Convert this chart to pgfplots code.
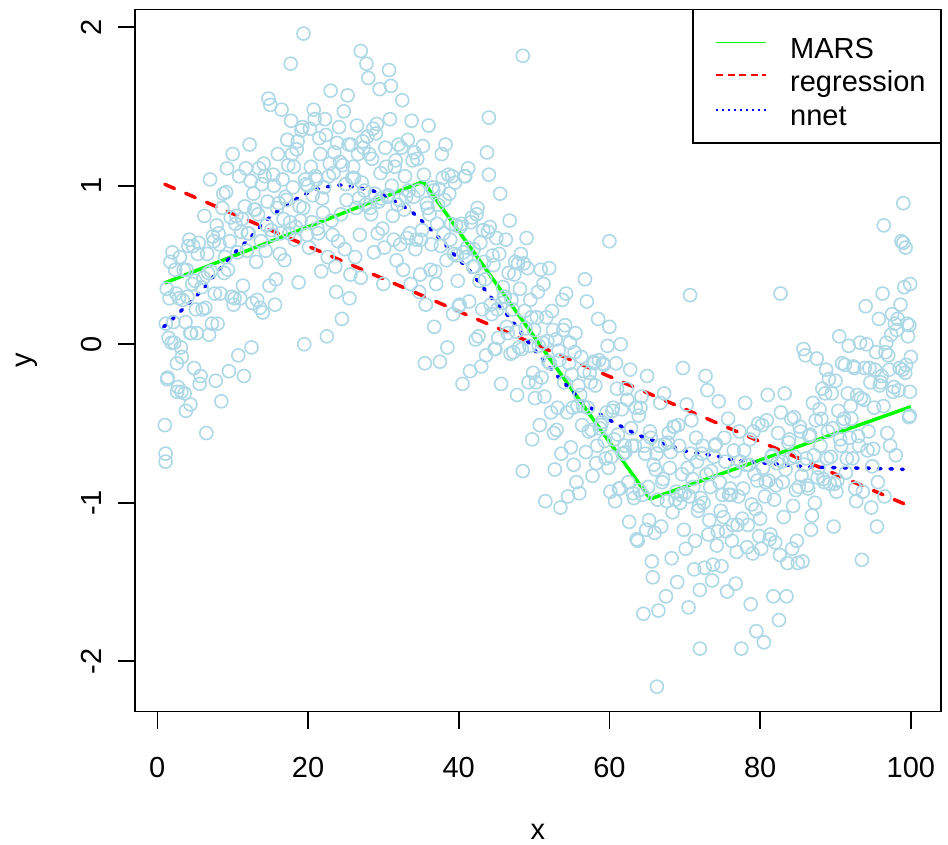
\documentclass[border=0pt]{standalone}
\usepackage{pgfplots}
\pgfplotsset{compat=1.18}
\usepackage{fontspec}
\setmainfont{Liberation Sans}
\definecolor{lb}{HTML}{ADD8E6}
\definecolor{rgreen}{HTML}{00FF00}
\definecolor{rred}{HTML}{FF0000}
\definecolor{rblue}{HTML}{0000FF}
\pgfplotstableread{
x y
1 -0.51
1.25 0.35
1.5 0.04
1.75 0.52
2 0.58
2.25 0.01
2.5 0.32
2.75 -0.27
3 0.55
3.25 -0.08
3.5 0.47
3.75 0.14
4 0.30
4.25 0.66
4.5 0.07
4.75 0.62
5 0.40
5.25 0.07
5.5 0.64
5.75 -0.20
6 0.22
6.25 0.81
6.5 -0.56
6.75 0.45
7 1.04
7.25 0.13
7.5 0.65
7.75 -0.23
8 0.13
8.25 0.63
8.5 -0.36
8.75 0.95
9 0.55
9.25 1.11
9.5 -0.17
9.75 0.80
10 1.20
10.25 0.29
10.5 0.81
10.75 -0.07
11 0.29
11.25 0.79
11.5 -0.20
11.75 1.11
12 0.70
12.25 1.26
12.5 -0.02
12.75 0.95
13 0.85
13.25 0.28
13.5 1.11
13.75 0.65
14 0.20
14.25 1.06
14.5 0.75
14.75 1.55
15 1.51
15.25 0.69
15.5 1.00
15.75 0.41
16 1.20
16.25 0.57
16.5 1.48
16.75 0.79
17 0.93
17.25 1.29
17.5 0.70
17.75 1.41
18 0.99
18.25 0.66
18.5 1.23
18.75 0.39
19 0.78
19.25 1.37
19.5 0.00
19.75 1.01
20 1.00
20.25 1.36
20.5 0.77
20.75 1.48
21 1.06
21.25 0.73
21.5 1.30
21.75 0.46
22 0.83
22.25 1.42
22.5 0.05
22.75 1.06
23 1.60
23.25 0.69
23.5 1.21
23.75 0.33
24 0.65
24.25 1.15
24.5 0.16
24.75 1.47
25 1.01
25.25 1.57
25.5 0.29
25.75 1.26
26 1.12
26.25 0.55
26.5 1.38
26.75 0.92
27 0.42
27.25 1.28
27.5 0.97
27.75 1.77
28 1.68
28.25 0.86
28.5 1.17
28.75 0.58
29 1.33
29.25 0.70
29.5 1.61
29.75 0.92
30 0.38
30.25 1.24
30.5 0.93
30.75 1.73
31 1.63
31.25 0.81
31.5 1.12
31.75 0.53
32 1.26
32.25 0.63
32.5 1.54
32.75 0.85
33 0.93
33.25 1.29
33.5 0.70
33.75 1.41
34 0.93
34.25 0.60
34.5 1.17
34.75 0.33
35 0.66
35.25 1.25
35.5 -0.12
35.75 0.89
36 1.38
36.25 0.47
36.5 0.99
36.75 0.11
37 0.38
37.25 0.88
37.5 -0.11
37.75 1.20
38 0.70
38.25 1.26
38.5 -0.02
38.75 0.95
39 0.76
39.25 0.19
39.5 1.02
39.75 0.56
40 0.24
40.25 0.74
40.5 -0.25
40.75 1.06
41 0.55
41.25 1.11
41.5 -0.17
41.75 0.80
42 0.60
42.25 0.03
42.5 0.86
42.75 0.40
43 -0.14
43.25 0.72
43.5 0.41
43.75 1.21
44 1.07
44.25 0.25
44.5 0.56
44.75 -0.03
45 0.67
45.25 0.04
45.5 0.95
45.75 0.26
46 0.30
46.25 0.66
46.5 0.07
46.75 0.78
47 0.28
47.25 -0.05
47.5 0.52
47.75 -0.32
48 -0.02
48.25 0.57
48.5 -0.80
48.75 0.21
49 0.67
49.25 -0.24
49.5 0.28
49.75 -0.60
50 0.09
50.25 -0.24
50.5 0.33
50.75 -0.51
51 -0.21
51.25 0.38
51.5 -0.99
51.75 0.02
52 0.48
52.25 -0.43
52.5 0.09
52.75 -0.79
53 -0.54
53.25 -0.04
53.5 -1.03
53.75 0.28
54 -0.24
54.25 0.32
54.5 -0.96
54.75 0.01
55 -0.19
55.25 -0.76
55.5 0.07
55.75 -0.39
56 -0.94
56.25 -0.08
56.5 -0.39
56.75 0.41
57 0.27
57.25 -0.55
57.5 -0.24
57.75 -0.83
58 -0.12
58.25 -0.75
58.5 0.16
58.75 -0.53
59 -0.49
59.25 -0.13
59.5 -0.72
59.75 -0.01
60 0.11
60.25 -0.71
60.5 -0.40
60.75 -0.99
61 -0.28
61.25 -0.91
61.5 0.00
61.75 -0.69
62 -0.64
62.25 -0.28
62.5 -0.87
62.75 -0.16
63 -0.64
63.25 -0.97
63.5 -0.40
63.75 -1.24
64 -0.92
64.25 -0.33
64.5 -1.70
64.75 -0.69
65 -0.20
65.25 -1.11
65.5 -0.59
65.75 -1.47
66 -1.19
66.25 -0.69
66.5 -1.68
66.75 -0.37
67 -0.87
67.25 -0.31
67.5 -1.59
67.75 -0.62
68 -0.78
68.25 -1.35
68.5 -0.52
68.75 -0.98
69 -1.50
69.25 -0.64
69.5 -0.95
69.75 -0.15
70 -0.94
70.25 -0.38
70.5 -1.66
70.75 -0.69
71 -0.85
71.25 -1.42
71.5 -0.59
71.75 -1.05
72 -1.55
72.25 -0.69
72.5 -1.00
72.75 -0.20
73 -0.29
73.25 -1.11
73.5 -0.80
73.75 -1.39
74 -0.64
74.25 -1.27
74.5 -0.36
74.75 -1.05
75 -0.95
75.25 -0.59
75.5 -1.18
75.75 -0.47
76 -0.91
76.25 -1.24
76.5 -0.67
76.75 -1.51
77 -1.14
77.25 -0.55
77.5 -1.92
77.75 -0.91
78 -0.37
78.25 -1.28
78.5 -0.76
78.75 -1.64
79 -1.32
79.25 -0.82
79.5 -1.81
79.75 -0.50
80 -1.10
80.25 -0.51
80.5 -1.88
80.75 -0.87
81 -0.32
81.25 -1.23
81.5 -0.71
81.75 -1.59
82 -1.25
82.25 -0.75
82.5 -1.74
82.75 -0.43
83 -0.87
83.25 -0.31
83.5 -1.59
83.75 -0.62
84 -0.72
84.25 -1.29
84.5 -0.46
84.75 -0.92
85 -1.38
85.25 -0.52
85.5 -0.83
85.75 -0.03
86 -0.07
86.25 -0.89
86.5 -0.58
86.75 -1.17
87 -0.37
87.25 -1.00
87.5 -0.09
87.75 -0.78
88 -0.64
88.25 -0.28
88.5 -0.87
88.75 -0.16
89 -0.55
89.25 -0.88
89.5 -0.31
89.75 -1.15
90 -0.23
90.25 -0.86
90.5 0.05
90.75 -0.64
91 -0.49
91.25 -0.13
91.5 -0.72
91.75 -0.01
92 -0.39
92.25 -0.72
92.5 -0.15
92.75 -0.99
93 -0.58
93.25 0.01
93.5 -1.36
93.75 -0.35
94 0.24
94.25 -0.67
94.5 -0.15
94.75 -1.03
95 -0.66
95.25 -0.16
95.5 -1.15
95.75 0.16
96 -0.24
96.25 0.32
96.5 -0.96
96.75 0.01
97 -0.07
97.25 -0.64
97.5 0.19
97.75 -0.27
98 -0.70
98.25 0.16
98.5 -0.15
98.75 0.65
99 0.64
99.25 -0.18
99.5 0.13
99.75 -0.46
99.8 0.12
99.85 -0.45
99.9 0.38
100 -0.08
1.1 -0.69
1.1 -0.74
1.3 -0.22
2.6 -0.12
3.8 -0.42
4.4 -0.38
3.2 -0.30
19.4 1.96
17.7 1.77
27.0 1.85
48.5 1.82
44.0 1.43
66.3 -2.16
72.0 -1.92
60.0 0.65
70.7 0.31
82.7 0.32
99.0 0.89
96.4 0.75
99.3 0.61
}\ptsA
\pgfplotstableread{
x y
1.125 0.13
1.375 -0.21
1.625 0.29
1.875 0.01
2.125 0.14
2.375 0.47
2.625 -0.30
2.875 0.29
3.125 -0.02
3.375 0.28
3.625 -0.31
3.875 0.47
4.125 0.62
4.375 0.07
4.625 0.38
4.875 -0.15
5.125 0.22
5.375 0.57
5.625 -0.25
5.875 0.36
6.125 0.42
6.375 0.23
6.625 0.57
6.875 0.06
7.125 0.46
7.375 0.68
7.625 0.32
7.875 0.75
8.125 0.70
8.375 0.32
8.625 0.86
8.875 0.45
9.125 0.96
9.375 0.47
9.625 0.65
9.875 0.30
10.125 0.25
10.375 0.76
10.625 0.58
10.875 1.06
11.125 0.71
11.375 0.37
11.625 0.87
11.875 0.59
12.125 0.70
12.375 1.03
12.625 0.26
12.875 0.85
13.125 0.52
13.375 0.82
13.625 0.23
13.875 1.01
14.125 1.14
14.375 0.59
14.625 0.90
14.875 0.37
15.125 0.72
15.375 1.07
15.625 0.25
15.875 0.86
16.125 0.89
16.375 0.70
16.625 1.04
16.875 0.53
17.125 0.91
17.375 1.13
17.625 0.77
17.875 1.20
18.125 1.12
18.375 0.74
18.625 1.28
18.875 0.87
19.125 1.35
19.375 0.86
19.625 1.04
19.875 0.69
20.125 0.61
20.375 1.12
20.625 0.94
20.875 1.42
21.125 1.04
21.375 0.70
21.625 1.20
21.875 0.92
22.125 0.99
22.375 1.32
22.625 0.55
22.875 1.14
23.125 0.78
23.375 1.08
23.625 0.49
23.875 1.27
24.125 1.37
24.375 0.82
24.625 1.13
24.875 0.60
25.125 0.91
25.375 1.26
25.625 0.44
25.875 1.05
26.125 1.05
26.375 0.86
26.625 1.20
26.875 0.69
27.125 1.02
27.375 1.24
27.625 0.88
27.875 1.31
28.125 1.20
28.375 0.82
28.625 1.36
28.875 0.95
29.125 1.39
29.375 0.90
29.625 1.08
29.875 0.73
30.125 0.61
30.375 1.12
30.625 0.94
30.875 1.42
31.125 1.00
31.375 0.66
31.625 1.16
31.875 0.88
32.125 0.91
32.375 1.24
32.625 0.47
32.875 1.06
33.125 0.67
33.375 0.97
33.625 0.38
33.875 1.16
34.125 1.21
34.375 0.66
34.625 0.97
34.875 0.44
35.125 0.72
35.375 1.07
35.625 0.25
35.875 0.86
36.125 0.82
36.375 0.63
36.625 0.97
36.875 0.46
37.125 0.76
37.375 0.98
37.625 0.62
37.875 1.05
38.125 0.91
38.375 0.53
38.625 1.07
38.875 0.66
39.125 1.06
39.375 0.57
39.625 0.75
39.875 0.40
40.125 0.25
40.375 0.76
40.625 0.58
40.875 1.06
41.125 0.61
41.375 0.27
41.625 0.77
41.875 0.49
42.125 0.49
42.375 0.82
42.625 0.05
42.875 0.64
43.125 0.22
43.375 0.52
43.625 -0.07
43.875 0.71
44.125 0.74
44.375 0.19
44.625 0.50
44.875 -0.03
45.125 0.22
45.375 0.57
45.625 -0.25
45.875 0.36
46.125 0.30
46.375 0.11
46.625 0.45
46.875 -0.06
47.125 0.22
47.375 0.44
47.625 0.08
47.875 0.51
48.125 0.35
48.375 -0.03
48.625 0.51
48.875 0.10
49.125 0.48
49.375 -0.01
49.625 0.17
49.875 -0.18
50.125 -0.34
50.375 0.17
50.625 -0.01
50.875 0.47
51.125 0.01
51.375 -0.33
51.625 0.17
51.875 -0.11
52.125 -0.12
52.375 0.21
52.625 -0.56
52.875 0.03
53.125 -0.40
53.375 -0.10
53.625 -0.69
53.875 0.09
54.125 0.12
54.375 -0.43
54.625 -0.12
54.875 -0.65
55.125 -0.40
55.375 -0.05
55.625 -0.87
55.875 -0.26
56.125 -0.32
56.375 -0.51
56.625 -0.17
56.875 -0.68
57.125 -0.40
57.375 -0.18
57.625 -0.54
57.875 -0.11
58.125 -0.26
58.375 -0.64
58.625 -0.10
58.875 -0.51
59.125 -0.12
59.375 -0.61
59.625 -0.43
59.875 -0.78
60.125 -0.93
60.375 -0.42
60.625 -0.60
60.875 -0.12
61.125 -0.57
61.375 -0.91
61.625 -0.41
61.875 -0.69
62.125 -0.68
62.375 -0.35
62.625 -1.12
62.875 -0.53
63.125 -0.94
63.375 -0.64
63.625 -1.23
63.875 -0.45
64.125 -0.40
64.375 -0.95
64.625 -0.64
64.875 -1.17
65.125 -0.90
65.375 -0.55
65.625 -1.37
65.875 -0.76
66.125 -0.79
66.375 -0.98
66.625 -0.64
66.875 -1.15
67.125 -0.85
67.375 -0.63
67.625 -0.99
67.875 -0.56
68.125 -0.68
68.375 -1.06
68.625 -0.52
68.875 -0.93
69.125 -0.51
69.375 -1.00
69.625 -0.82
69.875 -1.17
70.125 -1.29
70.375 -0.78
70.625 -0.96
70.875 -0.48
71.125 -0.90
71.375 -1.24
71.625 -0.74
71.875 -1.02
72.125 -0.97
72.375 -0.64
72.625 -1.41
72.875 -0.82
73.125 -1.20
73.375 -0.90
73.625 -1.49
73.875 -0.71
74.125 -0.63
74.375 -1.18
74.625 -0.87
74.875 -1.40
75.125 -1.09
75.375 -0.74
75.625 -1.56
75.875 -0.95
76.125 -0.95
76.375 -1.14
76.625 -0.80
76.875 -1.31
77.125 -0.96
77.375 -0.74
77.625 -1.10
77.875 -0.67
78.125 -0.76
78.375 -1.14
78.625 -0.60
78.875 -1.01
79.125 -0.55
79.375 -1.04
79.625 -0.86
79.875 -1.21
80.125 -1.29
80.375 -0.78
80.625 -0.96
80.875 -0.48
81.125 -0.86
81.375 -1.20
81.625 -0.70
81.875 -0.98
82.125 -0.89
82.375 -0.56
82.625 -1.33
82.875 -0.74
83.125 -1.09
83.375 -0.79
83.625 -1.38
83.875 -0.60
84.125 -0.47
84.375 -1.02
84.625 -0.71
84.875 -1.24
85.125 -0.90
85.375 -0.55
85.625 -1.37
85.875 -0.76
86.125 -0.72
86.375 -0.91
86.625 -0.57
86.875 -1.08
87.125 -0.70
87.375 -0.48
87.625 -0.84
87.875 -0.41
88.125 -0.47
88.375 -0.85
88.625 -0.31
88.875 -0.72
89.125 -0.22
89.375 -0.71
89.625 -0.53
89.875 -0.88
90.125 -0.93
90.375 -0.42
90.625 -0.60
90.875 -0.12
91.125 -0.47
91.375 -0.81
91.625 -0.31
91.875 -0.59
92.125 -0.47
92.375 -0.14
92.625 -0.91
92.875 -0.32
93.125 -0.64
93.375 -0.34
93.625 -0.93
93.875 -0.15
94.125 0.00
94.375 -0.55
94.625 -0.24
94.875 -0.77
95.125 -0.40
95.375 -0.05
95.625 -0.87
95.875 -0.26
96.125 -0.20
96.375 -0.39
96.625 -0.05
96.875 -0.56
97.125 -0.16
97.375 0.06
97.625 -0.30
97.875 0.13
98.125 0.09
98.375 -0.29
98.625 0.25
98.875 -0.16
99.125 0.36
99.375 -0.13
99.625 0.05
99.875 -0.30
}\ptsB
\begin{document}
\begin{tikzpicture}
\useasboundingbox (-135pt,-133.3pt) rectangle (813pt,711.7pt);
\begin{axis}[
  at={(0pt,0pt)}, anchor=south west,
  width=805.7pt, height=702.2pt, scale only axis,
  xmin=-2.96, xmax=103.96, ymin=-2.318, ymax=2.112,
  xtick={0,20,40,60,80,100}, ytick={-2,-1,0,1,2},
  tick pos=left, tick align=outside,
  major tick length=17pt,
  axis line style={line width=1.6pt, black},
  every tick/.style={black, line width=1.6pt},
  tick label style={font=\fontsize{29}{34}\selectfont},
  /pgf/number format/assume math mode=true,
  xticklabel style={anchor=base, yshift=-48.6pt},
  yticklabel style={anchor=base, xshift=-16pt, rotate=90},
  xlabel={x}, ylabel={y},
  label style={font=\fontsize{29}{34}\selectfont},
  xlabel style={at={(axis description cs:0.5,0)}, anchor=base, yshift=-128pt},
  ylabel style={at={([xshift=-103pt]axis description cs:0,0.5)}, anchor=base},
]
\addplot[only marks, mark=o, mark size=6.5pt, draw=lb, mark options={line width=1.6pt, draw=lb}] table {\ptsA};
\addplot[only marks, mark=o, mark size=6.5pt, draw=lb, mark options={line width=1.6pt, draw=lb}] table {\ptsB};
\addplot[rgreen, line width=3.5pt, line join=round] coordinates {
(1,0.387) (35.3,1.026) (65.4,-0.976) (100,-0.394)
};
\addplot[rred, line width=3.5pt, line cap=round, dash pattern=on 10.5pt off 12.2pt] coordinates {
(1,1.009) (100,-1.025)
};
\addplot[rblue, line width=3.5pt, line cap=round, dash pattern=on 2.5pt off 9pt, smooth] coordinates {
(0.84,0.11) (2.26,0.17) (5.7,0.33) (7.6,0.435) (9.8,0.555) (12.2,0.666) (14.2,0.77) (16.4,0.856) (18.2,0.91) (19.75,0.95) (21.3,0.98) (23.3,1.0) (24.8,1.003) (28.4,0.97) (30.1,0.94) (32.8,0.866) (34.4,0.81) (37.7,0.656) (39.7,0.55) (41.2,0.477) (43,0.372) (45,0.256) (46.5,0.183) (49.2,0.015) (50.3,-0.049) (51.2,-0.1) (52.7,-0.18) (54.7,-0.278) (56.7,-0.372) (58.9,-0.446) (61.2,-0.509) (63.8,-0.572) (65.6,-0.604) (67.4,-0.63) (70.5,-0.678) (74,-0.703) (76.7,-0.73) (83.3,-0.761) (87.7,-0.776) (94.4,-0.782) (99,-0.789)
};
\end{axis}
% legend
\draw[line width=1.6pt, fill=white] (558pt,568.7pt) rectangle (805.7pt,702.2pt);
\draw[draw=rgreen, line width=1.6pt] (581pt,669pt) -- (631pt,669pt);
\draw[draw=rred, line width=2.2pt, dash pattern=on 7pt off 4.5pt] (581pt,636.4pt) -- (631pt,636.4pt);
\draw[draw=rblue, line width=2.2pt, dash pattern=on 2.2pt off 3.8pt] (581pt,602pt) -- (631pt,602pt);
\node[anchor=base west, inner sep=0pt, font=\fontsize{29}{34}\selectfont] at (655pt,653pt) {MARS};
\node[anchor=base west, inner sep=0pt, font=\fontsize{29}{34}\selectfont] at (655pt,619.7pt) {regression};
\node[anchor=base west, inner sep=0pt, font=\fontsize{29}{34}\selectfont] at (655pt,586.4pt) {nnet};
\end{tikzpicture}
\end{document}
